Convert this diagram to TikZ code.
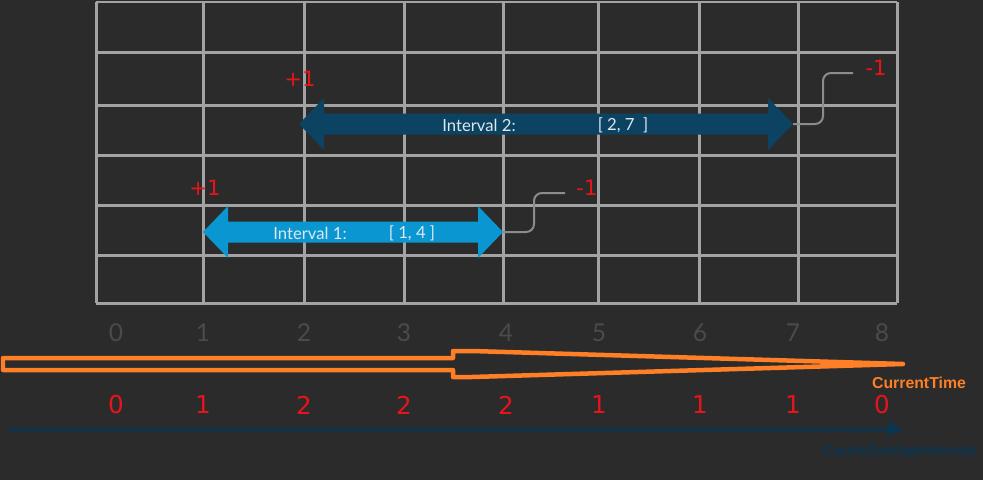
\documentclass[tikz,border=0pt]{standalone}
\usepackage{fontspec}
\setmainfont{Lato}
\newfontfamily\numfont{DejaVu Sans}
\newfontfamily\tagfont{Liberation Sans}
\usepackage{xcolor}
\usetikzlibrary{arrows.meta, calc}
\definecolor{bgcol}{HTML}{2B2B2B}
\definecolor{gridcol}{HTML}{A3A3A3}
\definecolor{axisgray}{HTML}{4B4B4B}
\definecolor{qred}{HTML}{E8141C}
\definecolor{qorange}{HTML}{FF7F27}
\definecolor{ivlight}{HTML}{0A97D1}
\definecolor{ivdark}{HTML}{0C4262}
\definecolor{axisblue}{HTML}{0A3651}
\definecolor{conncol}{HTML}{8C8C8C}
\definecolor{ivtext}{HTML}{DDE8EE}

\begin{document}
\begin{tikzpicture}[x=0.02cm, y=-0.02cm,
  ivtxt/.style={text=ivtext, font=\fontsize{9.5}{11}\selectfont},
  plusminus/.style={text=qred, font=\numfont\fontsize{12}{14}\selectfont},
  conn/.style={conncol, line width=0.04cm, rounded corners=4.5pt}]
\def\hh{26}   % half height of the arrow heads
\def\sh{10.5} % half height of the shaft
\def\hl{25}   % length of the arrow heads

\fill[bgcol] (0,0) rectangle (983,480);
\useasboundingbox (0,0) rectangle (983,480);

% grid
\foreach \x in {96,203,304,404,503,598,699,798,897}
  \draw[gridcol, line width=0.06cm] (\x,2) -- (\x,303);
\foreach \y in {2,52,105,155,205,255,303}
  \draw[gridcol, line width=0.06cm] (96,\y) -- (897,\y);

% interval 1
\def\yc{232}
\fill[ivlight] (203,\yc) -- (203+\hl,\yc-\hh) -- (203+\hl,\yc-\sh) -- (503-\hl,\yc-\sh)
  -- (503-\hl,\yc-\hh) -- (503,\yc) -- (503-\hl,\yc+\hh) -- (503-\hl,\yc+\sh)
  -- (203+\hl,\yc+\sh) -- (203+\hl,\yc+\hh) -- cycle;
\coordinate (i1r) at (503,\yc);
\node[ivtxt] (i1name) at (310,\yc+1) {Interval 1:};
\node[ivtxt] (i1val) at (412,\yc+1) {[ 1, 4 ]};

% interval 2
\def\yc{124}
\fill[ivdark] (299,\yc) -- (299+\hl,\yc-\hh) -- (299+\hl,\yc-\sh) -- (793-\hl,\yc-\sh)
  -- (793-\hl,\yc-\hh) -- (793,\yc) -- (793-\hl,\yc+\hh) -- (793-\hl,\yc+\sh)
  -- (299+\hl,\yc+\sh) -- (299+\hl,\yc+\hh) -- cycle;
\coordinate (i2r) at (793,\yc);
\node[ivtxt] (i2name) at (479,\yc+1) {Interval 2:};
\node[ivtxt] (i2val) at (623,\yc+1) {[ 2, 7 \ ]};

% start and end marks
\node[plusminus] (p1) at (205,188) {+1};
\node[plusminus] (p2) at (300,79) {+1};
\node[plusminus] (m1) at (587,188) {-1};
\node[plusminus] (m2) at (876,68) {-1};
\coordinate (e1) at (565,193);
\coordinate (e2) at (853,73);
\draw[conn] (i1r) -| ($(i1r)!0.5!(e1)$) |- (e1);
\draw[conn] (i2r) -| ($(i2r)!0.5!(e2)$) |- (e2);

% time axis
\foreach \x/\n in {116/0,203/1,304/2,404/3,506/4,599/5,700/6,793/7,882/8}
  \node[text=axisgray, font=\fontsize{14}{16}\selectfont] (t\n) at (\x,333) {\n};

\draw[qorange, line width=0.09cm, line join=round] (3,358) -- (453,358) -- (453,351)
  -- (472,351) -- (903,364) -- (472,377) -- (453,377) -- (453,370) -- (3,370) -- cycle;
\node[text=qorange, font=\tagfont\bfseries\fontsize{9}{11}\selectfont] (ct) at (919,383) {CurrentTime};

% overlap counts
\foreach \x/\c [count=\i] in {116/0,203/1,304/2,404/2,506/2,599/1,700/1,793/1,882/0}
  \node[text=qred, font=\numfont\fontsize{14}{16}\selectfont] (c\i) at (\x,405) {\c};

\coordinate (a0) at (8,429);
\coordinate (a1) at (903,429);
\draw[axisblue, line width=0.06cm, -{Triangle[length=0.3cm, width=0.27cm]}] (a0) -- (a1);
\node[text=axisblue, font=\tagfont\bfseries\fontsize{8.2}{10}\selectfont, anchor=east, inner xsep=0pt] (co) at (978,452) {CountOverlapIntervals};

\end{tikzpicture}
\end{document}
